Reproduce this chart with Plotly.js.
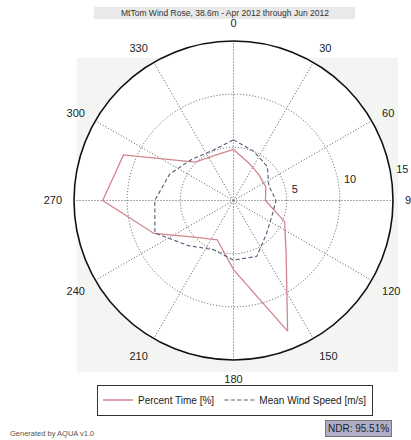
<!DOCTYPE html>
<html><head><meta charset="utf-8">
<script src="https://cdn.plot.ly/plotly-3.0.1.min.js"></script>
<style>html,body{margin:0;padding:0;background:#fff}#chart{width:411px;height:440px}</style>
</head><body><div id="chart"></div><script>
// Wind direction sectors (deg, clockwise from north)
const directions = [0, 22.5, 45, 67.5, 90, 112.5, 135, 157.5, 180, 202.5, 225, 247.5, 270, 292.5, 315, 337.5];
// Percent time in each sector [%]
const percentTime = [4.8, 3.8, 3.4, 3.3, 3.0, 5.2, 7.0, 13.3, 6.5, 4.0, 4.9, 8.1, 12.3, 11.2, 5.1, 4.6];
// Mean wind speed in each sector [m/s]
const meanWindSpeed = [5.7, 5.0, 4.5, 3.6, 4.0, 3.9, 4.4, 5.7, 5.6, 5.0, 6.0, 8.0, 7.4, 6.5, 5.5, 5.1];

const angularTickVals = [0, 30, 60, 90, 120, 150, 180, 210, 240, 270, 300, 330];
const angularTickText = ['0', '30', '60', '90', '120', '150', '180', '210', '240', '270', '300', '330'];
const radialTicks = [5, 10, 15];
const radialTickLabels = ['5', '10', '15'];

const titleText = 'MtTom Wind Rose, 38.6m - Apr 2012 through Jun 2012';
const seriesNames = ['Percent Time [%]', 'Mean Wind Speed [m/s]'];
const footerText = 'Generated by AQUA v1.0';
const ndrText = 'NDR: 95.51%';

const W = 411, H = 440;
const cx = 233.5, cy = 200.5, R = 159.5;
const px = v => v / W;
const py = v => 1 - v / H;
const FONT = 'Liberation Sans, Arial, sans-serif';
const RMAX = 15;

const close = a => a.concat([a[0]]);

const traces = [
  {
    type: 'scatterpolar', mode: 'lines', name: seriesNames[0],
    r: close(percentTime), theta: close(directions),
    line: {color: '#d2848e', width: 1.3},
    hoverinfo: 'skip'
  },
  {
    type: 'scatterpolar', mode: 'lines', name: seriesNames[1],
    r: close(meanWindSpeed), theta: close(directions),
    line: {color: '#555a78', width: 1.1, dash: '4px,2.5px'},
    hoverinfo: 'skip'
  },
  {
    type: 'scatterpolar', mode: 'text', showlegend: false,
    r: radialTicks, theta: radialTicks.map(() => 79),
    text: radialTickLabels.map(t => '\u00a0\u00a0' + t), textposition: 'middle right', cliponaxis: false,
    textfont: {family: FONT, size: 11, color: '#222'},
    hoverinfo: 'skip'
  }
];

const layout = {
  width: W, height: H,
  margin: {l: 0, r: 0, t: 0, b: 0},
  paper_bgcolor: '#ffffff',
  showlegend: true,
  legend: {
    orientation: 'h', x: px(235), xanchor: 'center', y: py(400), yanchor: 'middle',
    bordercolor: '#333', borderwidth: 1, bgcolor: '#ffffff',
    font: {family: FONT, size: 10, color: '#222'},
    itemwidth: 30, tracegroupgap: 0
  },
  polar: {
    domain: {x: [px(cx - R), px(cx + R)], y: [py(cy + R), py(cy - R)]},
    bgcolor: '#ffffff',
    angularaxis: {
      rotation: 90, direction: 'clockwise',
      tickmode: 'array', tickvals: angularTickVals, ticktext: angularTickText,
      showline: true, linecolor: '#111', linewidth: 1.6,
      showgrid: true, gridcolor: '#555', gridwidth: 1, griddash: '1px,2px',
      ticks: 'outside', ticklen: 9, tickcolor: 'rgba(0,0,0,0)',
      tickfont: {family: FONT, size: 11, color: '#222'}
    },
    radialaxis: {
      range: [0, RMAX], tickmode: 'array', tickvals: [5, 10],
      showticklabels: false, ticks: '', showline: false,
      showgrid: true, gridcolor: '#555', gridwidth: 1, griddash: '1px,2px',
      angle: 10
    }
  },
  shapes: [
    {type: 'rect', xref: 'paper', yref: 'paper', layer: 'below',
     x0: px(77), x1: px(398), y0: py(372), y1: py(58),
     fillcolor: '#f2f5f2', line: {width: 0}},
    {type: 'rect', xref: 'paper', yref: 'paper', layer: 'below',
     x0: px(94), x1: px(355), y0: py(19), y1: py(7),
     fillcolor: '#e9e9e9', line: {width: 0}}
  ],
  annotations: [
    {text: titleText, xref: 'paper', yref: 'paper', x: px(225), y: py(13),
     xanchor: 'center', yanchor: 'middle', showarrow: false,
     font: {family: FONT, size: 8.5, color: '#333'}},
    {text: footerText, xref: 'paper', yref: 'paper', x: px(8), y: py(433),
     xanchor: 'left', yanchor: 'middle', showarrow: false,
     font: {family: FONT, size: 7.5, color: '#555'}},
    {text: ndrText, xref: 'paper', yref: 'paper', x: px(358), y: py(428),
     xanchor: 'center', yanchor: 'middle', showarrow: false,
     bgcolor: '#aeaec8', bordercolor: '#777', borderwidth: 1, borderpad: 2,
     font: {family: FONT, size: 10, color: '#222'}}
  ]
};

Plotly.newPlot('chart', traces, layout, {displayModeBar: false, staticPlot: true});
</script></body></html>
